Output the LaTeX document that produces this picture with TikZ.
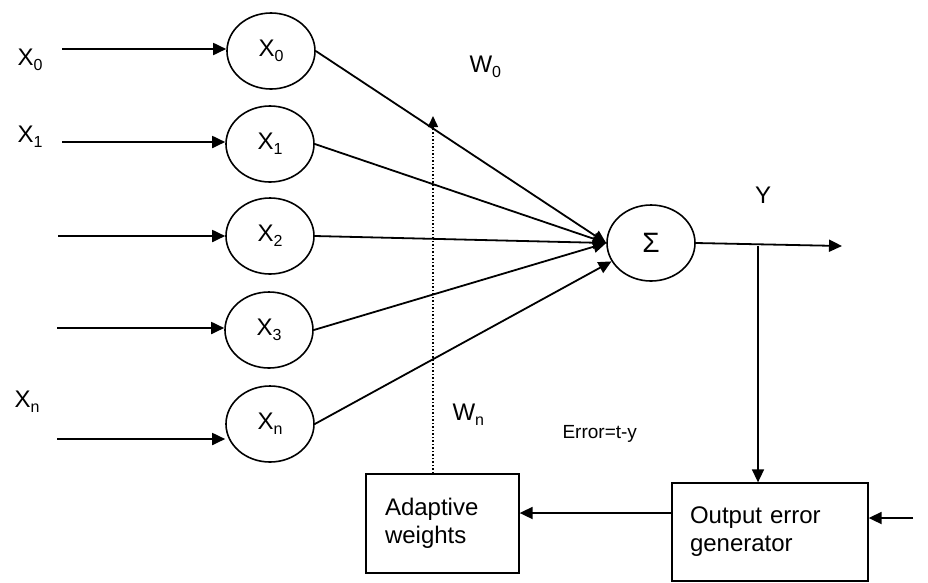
\documentclass[tikz,border=0pt]{standalone}
\usepackage{fontspec}
\setmainfont{Liberation Sans}
\usetikzlibrary{arrows.meta, shapes.geometric}

\newcommand{\lowsub}[1]{\raisebox{-5pt}{\fontsize{16}{16}\selectfont #1}}

\begin{document}
\begin{tikzpicture}[x=1pt, y=-1pt, >={Triangle[length=13pt, width=12pt]},
  every node/.style={font=\fontsize{24}{28}\selectfont},
  unit/.style={draw, ellipse, line width=1.6pt, minimum width=88pt, minimum height=76pt, inner sep=0pt},
  block/.style={draw, line width=1.3pt, align=left, inner xsep=19pt},
  link/.style={line width=1.8pt}]
  \useasboundingbox (0,0) rectangle (928,582);

  % input units
  \node[unit] (x0) at (271,51) {X\lowsub{0}};
  \node[unit] (x1) at (270,144) {X\lowsub{1}};
  \node[unit] (x2) at (270,236) {X\lowsub{2}};
  \node[unit] (x3) at (269,330) {X\lowsub{3}};
  \node[unit] (xn) at (270,424) {X\lowsub{n}};
  \node[unit, font=\fontsize{28}{30}\selectfont] (sum) at (651,243) {Σ};

  \node[anchor=base west] (lx0) at (14,65) {X\lowsub{0}};
  \node[anchor=base west] (lx1) at (14,142) {X\lowsub{1}};
  \node[anchor=base west] (lxn) at (11,407) {X\lowsub{n}};

  \coordinate (in0) at (62,49);
  \coordinate (in1) at (62,142);
  \coordinate (in2) at (58,236);
  \coordinate (in3) at (57,328);
  \coordinate (inn) at (57,439);
  \draw[->, link] (in0) -- (in0 -| x0.west);
  \draw[->, link] (in1) -- (in1 -| x1.west);
  \draw[->, link] (in2) -- (in2 -| x2.west);
  \draw[->, link] (in3) -- (in3 -| x3.west);
  \draw[->, link] (inn) -- (inn -| xn.west);

  % weighted links
  \draw[->, link] (x0.east) -- (sum.west);
  \draw[->, link] (x1.east) -- (sum.west);
  \draw[->, link] (x2.east) -- (sum.west);
  \draw[->, link] (x3.east) -- (sum.west);
  \draw[->, link] (xn.east) -- (sum.205);
  \node[anchor=base west] (w0) at (466,72) {W\lowsub{0}};
  \node[anchor=base west] (wn) at (449,420) {W\lowsub{n}};

  % output
  \coordinate (yout) at (842,246);
  \coordinate (tap) at (758,246);
  \draw[->, link] (sum.east) -- (yout);
  \node[anchor=base] (ylab) at (763,203) {Y};

  % learning loop
  \node[block, text width=115pt, minimum height=99pt] (aw) at (442.5,523.5) {Adaptive\\weights};
  \node[block, text width=160pt, minimum height=98pt, inner xsep=18pt] (oeg) at (770,532) {Output error\\generator};
  \node[anchor=base west, font=\fontsize{19}{22}\selectfont] (err) at (559,438) {Error=t-y};

  \coordinate (fb) at (0,513);
  \coordinate (target) at (913,518);
  \coordinate (wtap) at (433,116);
  \draw[->, line width=1.6pt] (tap) -- (tap |- oeg.north);
  \draw[->, link] (oeg.west |- fb) -- (aw.east |- fb);
  \draw[->, link] (target) -- (target -| oeg.east);
  \draw[->, dotted, line width=1.5pt, >={Triangle[length=11pt, width=10pt]}] (aw.north -| wtap) -- (wtap);
\end{tikzpicture}
\end{document}
